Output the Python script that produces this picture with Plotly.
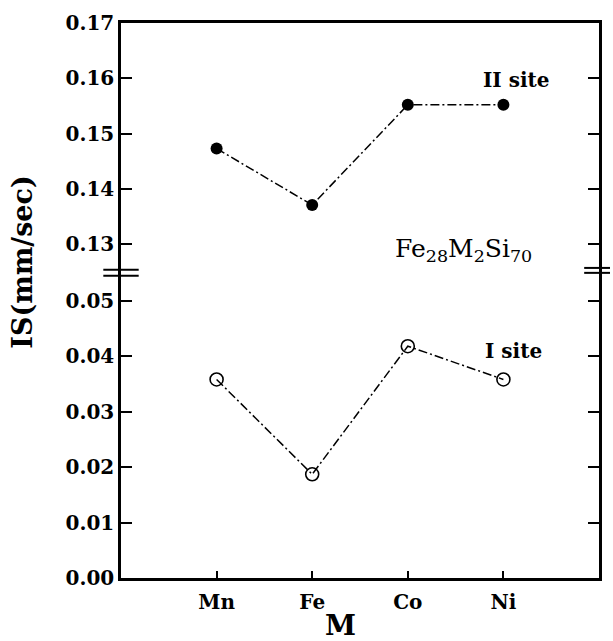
import plotly.graph_objects as go

categories = ["Mn", "Fe", "Co", "Ni"]
x_pos = [1, 2, 3, 4]
site_I = [0.0358, 0.0187, 0.0418, 0.0358]
site_II = [0.1473, 0.1371, 0.1552, 0.1552]
lower_ticks = [0.00, 0.01, 0.02, 0.03, 0.04, 0.05]
upper_ticks = [0.13, 0.14, 0.15, 0.16, 0.17]

FONT = "DejaVu Serif"
split = 0.5516

fig = go.Figure()
fig.add_trace(go.Scatter(
    x=x_pos, y=site_I, mode="lines+markers", xaxis="x", yaxis="y",
    line=dict(color="black", width=1.5, dash="9px,3px,2px,3px"),
    marker=dict(symbol="circle-open", size=13, color="black", line=dict(width=1.6)),
    showlegend=False))
fig.add_trace(go.Scatter(
    x=x_pos, y=site_II, mode="lines+markers", xaxis="x2", yaxis="y2",
    line=dict(color="black", width=1.5, dash="9px,3px,2px,3px"),
    marker=dict(symbol="circle", size=12, color="black"),
    showlegend=False))

tickfont = dict(family=FONT, size=20, color="black", weight="bold")

fig.update_layout(
    width=613, height=641,
    margin=dict(l=121, r=11, t=16, b=63),
    paper_bgcolor="white", plot_bgcolor="white",
    xaxis=dict(domain=[0, 1], anchor="y", range=[0, 5],
               tickvals=x_pos, ticktext=categories,
               ticks="inside", ticklen=7, tickwidth=1.5, tickcolor="black",
               showline=True, linecolor="black", linewidth=2.5,
               showgrid=False, zeroline=False,
               tickfont=dict(family=FONT, size=20, color="black", weight="bold"),
               ticklabelstandoff=4),
    xaxis2=dict(domain=[0, 1], anchor="y2", range=[0, 5], side="top",
                showline=True, linecolor="black", linewidth=2.5,
                showticklabels=False, ticks="", showgrid=False, zeroline=False),
    yaxis=dict(domain=[0, split], anchor="x", range=[0, 0.0552],
               tickvals=lower_ticks, tickformat=".2f",
               ticks="inside", ticklen=11, tickwidth=1.5, tickcolor="black",
               showline=True, linecolor="black", linewidth=2.5, mirror="ticks",
               showgrid=False, zeroline=False, tickfont=tickfont),
    yaxis2=dict(domain=[split, 1], anchor="x2", range=[0.125, 0.17],
                tickvals=upper_ticks, tickformat=".2f",
                ticks="inside", ticklen=11, tickwidth=1.5, tickcolor="black",
                showline=True, linecolor="black", linewidth=2.5, mirror="ticks",
                showgrid=False, zeroline=False, tickfont=tickfont),
)

# axis break marks
for (xa, xb, ya, yb) in [(-0.037, 0.037, 0.5552, 0.5445), (0.969, 1.023, 0.5587, 0.5498)]:
    for yy in (ya, yb):
        fig.add_shape(type="line", xref="paper", yref="paper",
                      x0=xa, x1=xb, y0=yy, y1=yy, line=dict(color="black", width=2))

fig.add_annotation(text="IS(mm/sec)", xref="paper", yref="paper",
                   x=-0.206, y=0.569, textangle=-90, showarrow=False,
                   xanchor="center", yanchor="middle",
                   font=dict(family=FONT, size=27, color="black", weight="bold"))
fig.add_annotation(text="M", xref="paper", yref="paper",
                   x=(342 - 121) / 481, y=(578 - 626) / 562, showarrow=False,
                   xanchor="center", yanchor="middle",
                   font=dict(family=FONT, size=28, color="black", weight="bold"))
fig.add_annotation(text="II site", xref="paper", yref="paper",
                   x=(519 - 121) / 481, y=(578 - 74) / 562, showarrow=False,
                   xanchor="center", yanchor="middle",
                   font=dict(family=FONT, size=20, color="black", weight="bold"))
fig.add_annotation(text="I site", xref="paper", yref="paper",
                   x=(516 - 121) / 481, y=(578 - 348) / 562, showarrow=False,
                   xanchor="center", yanchor="middle",
                   font=dict(family=FONT, size=20, color="black", weight="bold"))
fig.add_annotation(text="Fe<sub>28</sub>M<sub>2</sub>Si<sub>70</sub>", xref="paper", yref="paper",
                   x=(466 - 121) / 481, y=(578 - 246) / 562, showarrow=False,
                   xanchor="center", yanchor="middle",
                   font=dict(family=FONT, size=25, color="black"))

fig.write_html("out.html")
